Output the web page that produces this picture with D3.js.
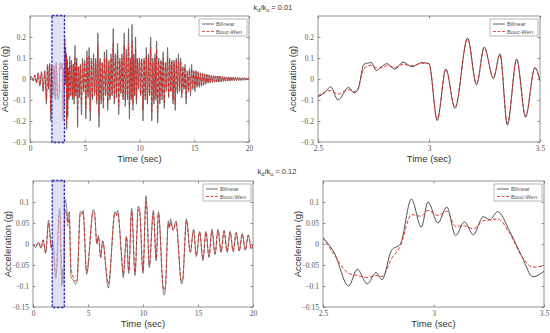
<!DOCTYPE html>
<html>
<head>
<meta charset="utf-8">
<script src="https://cdn.jsdelivr.net/npm/d3@7"></script>
<style>
  body { margin: 0; background: #fff; }
  svg { display: block; }
</style>
</head>
<body>
<div class="container"></div>
<script>
let width = 550
let height = 333

// ---- data ----
// k_d/k_u = 0.01, whole record (extremes of each swing)
let topLongTime = [0, 0.15, 0.3, 0.45, 0.6, 0.75, 0.9, 1.05, 1.2, 1.35, 1.5, 1.6, 1.7, 1.8, 1.9, 2.0, 2.1, 2.2, 2.3, 2.4,
  2.5, 2.59, 2.66, 2.74, 2.85, 2.97, 3.04, 3.08, 3.12, 3.17, 3.21, 3.25, 3.29, 3.32, 3.35, 3.4, 3.44, 3.48,
  3.55, 3.63, 3.71, 3.79, 3.87, 3.95, 4.03, 4.11, 4.19, 4.27, 4.35, 4.43, 4.51, 4.6, 4.7, 4.8, 4.9,
  5.0, 5.1, 5.2, 5.3, 5.4, 5.5, 5.6, 5.7, 5.8, 5.9, 6.0, 6.1, 6.2, 6.3, 6.4, 6.5, 6.6, 6.7, 6.8, 6.9,
  7.0, 7.1, 7.2, 7.3, 7.4, 7.5, 7.6, 7.7, 7.8, 7.9, 8.0, 8.1, 8.2, 8.3, 8.4, 8.5, 8.6, 8.7, 8.8, 8.9,
  9.0, 9.08, 9.16, 9.24, 9.32, 9.4, 9.48, 9.56, 9.64, 9.72, 9.8, 9.9, 10.0, 10.1, 10.2, 10.32, 10.42, 10.52,
  10.62, 10.72, 10.82, 10.92, 11.02, 11.12, 11.22, 11.32, 11.42, 11.5, 11.56, 11.66, 11.76, 11.86, 11.96,
  12.06, 12.16, 12.26, 12.36, 12.46, 12.56, 12.66, 12.76, 12.86, 12.96, 13.06, 13.16, 13.26, 13.36, 13.46,
  13.56, 13.66, 13.76, 13.86, 13.96, 14.06, 14.16, 14.26, 14.36, 14.46, 14.56, 14.66, 14.76, 14.86, 14.96,
  15.06, 15.16, 15.26, 15.36, 15.46, 15.56, 15.66, 15.76, 15.86, 15.96, 16.06, 16.16, 16.26, 16.36, 16.46,
  16.56, 16.66, 16.76, 16.86, 16.96, 17.06, 17.16, 17.26, 17.36, 17.46, 17.56, 17.66, 17.76, 17.86, 17.96,
  18.06, 18.16, 18.26, 18.36, 18.46, 18.56, 18.66, 18.76, 18.86, 18.96, 19.06, 19.16, 19.26, 19.36, 19.46,
  19.56, 19.66, 19.76, 19.86, 19.96, 20]
let topLongBilinear = [0, 0.012, -0.01, 0.02, -0.02, 0.03, -0.035, 0.035, -0.06, 0.04, -0.12, 0.07, -0.05, 0.075, -0.2, 0.06, -0.08, 0.065, -0.1, 0.08,
  -0.085, -0.1, -0.066, 0.078, 0.047, 0.078, -0.198, 0.048, -0.14, 0.195, -0.028, 0.152, 0.003, 0.12, -0.24, 0.095, -0.182, 0.055,
  -0.1, 0.11, -0.08, 0.09, -0.1, 0.07, -0.12, 0.16, -0.08, 0.1, -0.23, 0.06, -0.09, 0.07, -0.17, 0.1, -0.06,
  0.09, -0.19, 0.135, -0.09, 0.15, -0.2, 0.1, -0.1, 0.12, -0.08, 0.1, -0.12, 0.22, -0.23, 0.1, -0.12, 0.08, -0.14, 0.13, -0.08,
  0.14, -0.15, 0.09, -0.1, 0.12, -0.08, 0.24, -0.12, 0.12, -0.09, 0.17, -0.17, 0.1, -0.07, 0.12, -0.1, 0.22, -0.13, 0.14, -0.1,
  0.24, -0.19, 0.1, -0.1, 0.26, -0.15, 0.12, -0.08, 0.2, -0.12, 0.1, -0.05, 0.1, -0.08, 0.095, -0.2, 0.1, -0.1,
  0.15, -0.12, 0.12, -0.08, 0.2, -0.2, 0.1, -0.12, 0.12, -0.1, 0.18, -0.21, 0.1, -0.12, 0.09,
  -0.1, 0.13, -0.14, 0.08, -0.06, 0.15, -0.09, 0.1, -0.06, 0.09, -0.12, 0.09, -0.15, 0.1, -0.07,
  0.12, -0.06, 0.1, -0.09, 0.06, -0.05, 0.07, -0.12, 0.04, -0.06, 0.05, -0.08, 0.07, -0.05, 0.04,
  -0.06, 0.04, -0.04, 0.035, -0.04, 0.03, -0.035, 0.028, -0.03, 0.025, -0.025, 0.022, -0.02, 0.02, -0.018,
  0.018, -0.017, 0.016, -0.016, 0.015, -0.015, 0.014, -0.014, 0.013, -0.013, 0.012, -0.012, 0.011, -0.011, 0.01,
  -0.01, 0.01, -0.009, 0.009, -0.009, 0.008, -0.008, 0.008, -0.008, 0.007, -0.007, 0.007, -0.007, 0.006, -0.006,
  0.006, -0.006, 0.005, -0.005, 0.005, 0]
let topLongBoucWen = [0, 0.01, -0.008, 0.018, -0.018, 0.028, -0.03, 0.03, -0.05, 0.035, -0.1, 0.065, -0.045, 0.07, -0.16, 0.055, -0.07, 0.06, -0.085, 0.07,
  -0.08, -0.072, -0.062, 0.065, 0.055, 0.075, -0.19, 0.045, -0.135, 0.19, -0.022, 0.148, 0.005, 0.115, -0.21, 0.09, -0.175, 0.05,
  -0.09, 0.08, -0.075, 0.075, -0.085, 0.07, -0.09, 0.1, -0.08, 0.075, -0.15, 0.06, -0.08, 0.06, -0.12, 0.08, -0.06,
  0.07, -0.14, 0.1, -0.08, 0.11, -0.15, 0.08, -0.09, 0.1, -0.07, 0.085, -0.1, 0.16, -0.17, 0.085, -0.1, 0.075, -0.11, 0.1, -0.075,
  0.1, -0.12, 0.08, -0.09, 0.1, -0.07, 0.17, -0.1, 0.1, -0.08, 0.13, -0.13, 0.085, -0.06, 0.1, -0.085, 0.16, -0.1, 0.11, -0.08,
  0.17, -0.14, 0.09, -0.09, 0.18, -0.12, 0.1, -0.07, 0.15, -0.1, 0.095, -0.04, 0.1, -0.07, 0.095, -0.15, 0.09, -0.08,
  0.11, -0.1, 0.1, -0.07, 0.15, -0.16, 0.08, -0.1, 0.1, -0.08, 0.14, -0.16, 0.08, -0.1, 0.08,
  -0.08, 0.1, -0.11, 0.07, -0.05, 0.1, -0.08, 0.08, -0.06, 0.08, -0.1, 0.08, -0.12, 0.085, -0.06,
  0.09, -0.05, 0.08, -0.07, 0.05, -0.045, 0.055, -0.09, 0.035, -0.05, 0.04, -0.06, 0.05, -0.04, 0.035,
  -0.045, 0.035, -0.035, 0.03, -0.035, 0.025, -0.03, 0.025, -0.025, 0.022, -0.02, 0.02, -0.018, 0.018, -0.016,
  0.016, -0.015, 0.015, -0.014, 0.014, -0.013, 0.013, -0.012, 0.012, -0.011, 0.011, -0.011, 0.01, -0.01, 0.009,
  -0.009, 0.009, -0.008, 0.008, -0.008, 0.007, -0.007, 0.007, -0.007, 0.006, -0.006, 0.006, -0.006, 0.005, -0.005,
  0.005, -0.005, 0.005, -0.004, 0.004, 0]

// k_d/k_u = 0.01, 2.5 - 3.5 s
let topZoomTime = [2.5, 2.53, 2.557, 2.59, 2.638, 2.662, 2.68, 2.707, 2.74, 2.763, 2.79, 2.81, 2.846, 2.883, 2.924,
  2.966, 3.0, 3.037, 3.076, 3.117, 3.174, 3.214, 3.249, 3.29, 3.32, 3.353, 3.395, 3.435, 3.477, 3.5]
let topZoomBilinear = [-0.085, -0.065, -0.037, -0.1, -0.04, -0.066, -0.05, 0.07, 0.078, 0.04, 0.062, 0.073, 0.047, 0.08, 0.058,
  0.078, 0.074, -0.198, 0.048, -0.14, 0.195, -0.028, 0.152, 0.003, 0.12, -0.22, 0.095, -0.182, 0.055, -0.01]
let topZoomBoucWen = [-0.08, -0.062, -0.055, -0.072, -0.05, -0.062, -0.045, 0.05, 0.065, 0.052, 0.055, 0.064, 0.055, 0.07, 0.063,
  0.075, 0.072, -0.19, 0.045, -0.135, 0.19, -0.022, 0.148, 0.005, 0.115, -0.21, 0.09, -0.175, 0.05, -0.005]

// k_d/k_u = 0.12, whole record
let botLongTime = [0, 0.25, 0.5, 0.72, 0.92, 1.15, 1.42, 1.66, 1.8, 2.08, 2.42, 2.62, 2.67, 2.72, 2.78, 2.9, 2.98, 3.06,
  3.14, 3.3, 3.45, 3.7, 3.85, 4.0, 4.3, 4.45, 4.55, 4.88, 5.48, 5.6, 5.8, 5.95, 6.15, 6.33, 6.85, 7.45, 7.6, 7.7,
  8.06, 8.2, 8.5, 8.7, 8.97, 9.27, 9.57, 9.7, 10.0, 10.27, 10.35, 10.57, 10.94, 11.2, 11.4, 11.85, 11.95, 12.05,
  12.3, 12.4, 12.5, 12.75, 13.0, 13.5, 13.6, 13.95, 14.3, 14.6, 14.85, 15.15, 15.45, 15.72, 16.0, 16.27, 16.55,
  16.82, 17.1, 17.37, 17.65, 17.92, 18.2, 18.47, 18.75, 19.02, 19.3, 19.57, 19.85, 20]
let botLongBilinear = [0, -0.008, 0.004, -0.01, 0.01, -0.022, 0.057, -0.01, 0.005, -0.082, 0.085, -0.1, -0.06, -0.095, -0.085, 0.107, 0.1, 0.088,
  0.053, 0.077, -0.078, -0.088, -0.095, -0.09, 0.078, 0.072, 0.08, -0.072, 0.082, 0.075, 0.0, 0.02, -0.033, 0.008, -0.105, 0.077, 0.07, 0.08,
  -0.035, -0.08, 0.018, -0.07, 0.085, -0.075, 0.09, 0.08, -0.07, 0.115, 0.09, -0.056, 0.08, -0.04, 0.077, -0.115, -0.122, -0.1,
  0.055, 0.04, 0.06, 0.034, 0.055, -0.095, -0.09, 0.06, -0.02, 0.035, -0.03, 0.03, -0.04, 0.03, -0.032, 0.035, -0.025,
  0.035, -0.02, 0.033, -0.02, 0.03, -0.018, 0.028, -0.017, 0.025, -0.015, 0.022, -0.012, 0]
let botLongBoucWen = [0, -0.007, 0.004, -0.009, 0.009, -0.02, 0.05, -0.008, 0.004, -0.075, 0.078, -0.07, -0.075, -0.08, -0.078, 0.07, 0.08, 0.078,
  0.043, 0.06, -0.055, -0.082, -0.088, -0.085, 0.072, 0.07, 0.074, -0.066, 0.076, 0.072, 0.002, 0.016, -0.03, 0.006, -0.095, 0.072, 0.068, 0.074,
  -0.03, -0.072, 0.016, -0.064, 0.078, -0.068, 0.082, 0.076, -0.064, 0.1, 0.085, -0.05, 0.074, -0.036, 0.072, -0.105, -0.11, -0.095,
  0.048, 0.038, 0.052, 0.032, 0.05, -0.088, -0.085, 0.055, -0.018, 0.032, -0.027, 0.028, -0.036, 0.028, -0.03, 0.032, -0.023,
  0.032, -0.019, 0.03, -0.018, 0.028, -0.017, 0.026, -0.016, 0.023, -0.014, 0.02, -0.011, 0]

// k_d/k_u = 0.12, 2.5 - 3.5 s
let botZoomTime = [2.5, 2.55, 2.616, 2.655, 2.7, 2.74, 2.767, 2.81, 2.85, 2.9, 2.945, 2.975, 3.02, 3.06, 3.1, 3.14,
  3.18, 3.225, 3.255, 3.29, 3.345, 3.4, 3.45, 3.5]
let botZoomBilinear = [0.015, -0.02, -0.1, -0.06, -0.095, -0.068, -0.085, -0.015, 0.0, 0.107, 0.04, 0.1, 0.05, 0.088, 0.02, 0.053,
  0.022, 0.065, 0.058, 0.077, 0.03, -0.03, -0.078, -0.065]
let botZoomBoucWen = [0.015, -0.025, -0.07, -0.075, -0.08, -0.075, -0.078, -0.035, -0.005, 0.07, 0.066, 0.08, 0.068, 0.078, 0.042, 0.043,
  0.036, 0.055, 0.057, 0.06, 0.025, -0.03, -0.055, -0.052]

let longTicks = [0, 5, 10, 15, 20]
let longTickLabels = ["0", "5", "10", "15", "20"]
let zoomTicks = [2.5, 3, 3.5]
let zoomTickLabels = ["2.5", "3", "3.5"]
let topYTicks = [-0.3, -0.2, -0.1, 0, 0.1, 0.2]
let topYTickLabels = ["\u22120.3", "\u22120.2", "\u22120.1", "0", "0.1", "0.2"]
let botYTicks = [-0.15, -0.1, -0.05, 0, 0.05, 0.1]
let botYTickLabels = ["\u22120.15", "\u22120.1", "\u22120.05", "0", "0.05", "0.1"]
let seriesNames = ["Bilinear", "Bouc-Wen"]
let ratioLabels = ["0.01", "0.12"]
let boxSpans = [[2.0, 3.15], [1.75, 2.85]]

let bilinearColor = "#3d3d3d"
let boucWenColor = "#e3201c"
let tickFont = "'Liberation Serif', 'DejaVu Serif', serif"
let labelFont = "'Liberation Sans', Arial, sans-serif"

let svg = d3.select(".container")
  .append("svg")
  .attr("width", width)
  .attr("height", height)

svg.append("rect").attr("width", width).attr("height", height).attr("fill", "#fff")

let clipId = 0

function drawPanel(p) {
  let g = svg.append("g")
  let x = d3.scaleLinear().domain(p.xDomain).range([p.left, p.right])
  let y = d3.scaleLinear().domain(p.yDomain).range([p.bottom, p.top])

  g.append("rect")
    .attr("x", p.left).attr("y", p.top)
    .attr("width", p.right - p.left).attr("height", p.bottom - p.top)
    .attr("fill", "#fff")

  clipId++
  g.append("clipPath").attr("id", "clip" + clipId)
    .append("rect")
    .attr("x", p.left).attr("y", p.top)
    .attr("width", p.right - p.left).attr("height", p.bottom - p.top)

  let plot = g.append("g").attr("clip-path", "url(#clip" + clipId + ")")

  let line = d3.line()
    .x(function (d) { return x(d[0]) })
    .y(function (d) { return y(d[1]) })
    .curve(d3.curveMonotoneX)

  plot.append("path")
    .datum(d3.zip(p.time, p.bilinear))
    .attr("d", line)
    .attr("fill", "none")
    .attr("stroke", p.long ? "#4a4a4a" : bilinearColor)
    .attr("stroke-width", p.long ? 0.7 : 0.9)

  plot.append("path")
    .datum(d3.zip(p.time, p.boucWen))
    .attr("d", line)
    .attr("fill", "none")
    .attr("stroke", boucWenColor)
    .attr("stroke-width", p.long ? 0.9 : 0.9)
    .attr("stroke-dasharray", "3.5,2")

  if (p.span) {
    g.append("rect")
      .attr("x", x(p.span[0]))
      .attr("y", p.top - 0.5)
      .attr("width", x(p.span[1]) - x(p.span[0]))
      .attr("height", p.bottom - p.top + 1)
      .attr("fill", "rgba(205,205,240,0.6)")
      .attr("stroke", "#2222c8")
      .attr("stroke-width", 1.3)
      .attr("stroke-dasharray", "2.5,1.5")
  }

  // axes, ticks pointing inside like MATLAB
  let xAxis = g.append("g")
    .attr("transform", "translate(0," + p.bottom + ")")
    .call(d3.axisBottom(x).tickValues(p.xTicks)
      .tickFormat(function (d, i) { return p.xLabels[i] })
      .tickSizeInner(-2.5).tickSizeOuter(0).tickPadding(5))
  let yAxis = g.append("g")
    .attr("transform", "translate(" + p.left + ",0)")
    .call(d3.axisLeft(y).tickValues(p.yTicks)
      .tickFormat(function (d, i) { return p.yLabels[i] })
      .tickSizeInner(-2.5).tickSizeOuter(0).tickPadding(4))
  g.append("g")
    .attr("transform", "translate(0," + p.top + ")")
    .call(d3.axisTop(x).tickValues(p.xTicks).tickFormat("").tickSizeInner(-2.5).tickSizeOuter(0))
  g.append("g")
    .attr("transform", "translate(" + p.right + ",0)")
    .call(d3.axisRight(y).tickValues(p.yTicks).tickFormat("").tickSizeInner(-2.5).tickSizeOuter(0))

  g.selectAll(".domain").remove()
  g.selectAll(".tick line").attr("stroke", "#444").attr("stroke-width", 0.6)
  g.selectAll(".tick text")
    .attr("font-family", tickFont)
    .attr("font-size", "7.5px")
    .attr("fill", "#555")
  xAxis.selectAll(".tick text").attr("dy", "0.55em")

  g.append("rect")
    .attr("x", p.left).attr("y", p.top)
    .attr("width", p.right - p.left).attr("height", p.bottom - p.top)
    .attr("fill", "none")
    .attr("stroke", "#666")
    .attr("stroke-width", 0.7)

  g.append("text")
    .attr("x", (p.left + p.right) / 2)
    .attr("y", p.bottom + 20)
    .attr("text-anchor", "middle")
    .attr("font-family", labelFont)
    .attr("font-size", "9.5px")
    .attr("fill", "#333")
    .text("Time (sec)")

  g.append("text")
    .attr("transform", "translate(" + (p.left - 22) + "," + ((p.top + p.bottom) / 2) + ") rotate(-90)")
    .attr("text-anchor", "middle")
    .attr("font-family", labelFont)
    .attr("font-size", "9.5px")
    .attr("fill", "#333")
    .text("Acceleration (g)")

  // legend
  let lw = 48, lh = 17
  let lx = p.right - lw - 2, ly = p.top + 3
  let legend = g.append("g")
  legend.append("rect")
    .attr("x", lx).attr("y", ly).attr("width", lw).attr("height", lh)
    .attr("fill", "#fff").attr("stroke", "#888").attr("stroke-width", 0.6)
  let colors = [bilinearColor, boucWenColor]
  let dashes = [null, "3,1.5"]
  seriesNames.forEach(function (name, i) {
    let yy = ly + 5 + i * 7.5
    legend.append("line")
      .attr("x1", lx + 3).attr("x2", lx + 15)
      .attr("y1", yy).attr("y2", yy)
      .attr("stroke", colors[i]).attr("stroke-width", 0.8)
      .attr("stroke-dasharray", dashes[i])
    legend.append("text")
      .attr("x", lx + 17).attr("y", yy + 2)
      .attr("font-family", labelFont)
      .attr("font-size", "5.6px")
      .attr("fill", "#555")
      .text(name)
  })
}

function drawTitle(cx, baseY, ratio) {
  let t = svg.append("text")
    .attr("x", cx).attr("y", baseY)
    .attr("text-anchor", "middle")
    .attr("font-family", labelFont)
    .attr("font-size", "7.5px")
    .attr("fill", "#333")
  t.append("tspan").text("k")
  t.append("tspan").attr("font-size", "5.5px").attr("dy", 2).text("d")
  t.append("tspan").attr("dy", -2).text("/k")
  t.append("tspan").attr("font-size", "5.5px").attr("dy", 2).text("u")
  t.append("tspan").attr("dy", -2).text(" = " + ratio)
}

drawPanel({ left: 30, right: 249, top: 16, bottom: 142, xDomain: [0, 20], yDomain: [-0.3, 0.3],
  xTicks: longTicks, xLabels: longTickLabels, yTicks: topYTicks, yLabels: topYTickLabels,
  time: topLongTime, bilinear: topLongBilinear, boucWen: topLongBoucWen, long: true, span: boxSpans[0] })
drawPanel({ left: 318, right: 540, top: 16, bottom: 142, xDomain: [2.5, 3.5], yDomain: [-0.3, 0.3],
  xTicks: zoomTicks, xLabels: zoomTickLabels, yTicks: topYTicks, yLabels: topYTickLabels,
  time: topZoomTime, bilinear: topZoomBilinear, boucWen: topZoomBoucWen })
drawPanel({ left: 33, right: 253, top: 181, bottom: 307, xDomain: [0, 20], yDomain: [-0.15, 0.15],
  xTicks: longTicks, xLabels: longTickLabels, yTicks: botYTicks, yLabels: botYTickLabels,
  time: botLongTime, bilinear: botLongBilinear, boucWen: botLongBoucWen, long: true, span: boxSpans[1] })
drawPanel({ left: 323, right: 544, top: 181, bottom: 307, xDomain: [2.5, 3.5], yDomain: [-0.15, 0.15],
  xTicks: zoomTicks, xLabels: zoomTickLabels, yTicks: botYTicks, yLabels: botYTickLabels,
  time: botZoomTime, bilinear: botZoomBilinear, boucWen: botZoomBoucWen })

drawTitle(273, 10, ratioLabels[0])
drawTitle(277, 174, ratioLabels[1])
</script>
</body>
</html>
